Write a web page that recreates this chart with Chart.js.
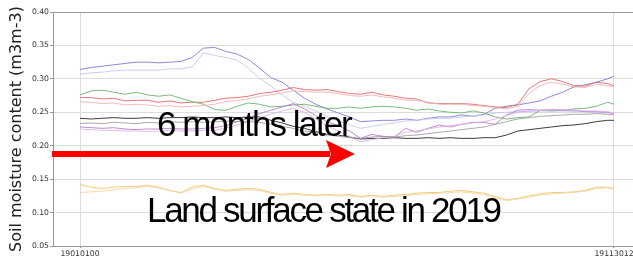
<!DOCTYPE html>
<html>
<head>
<meta charset="utf-8">
<script src="https://cdn.jsdelivr.net/npm/chart.js@4"></script>
<style>
  html,body{margin:0;padding:0;background:#fff;}
  #c{display:block;}
</style>
</head>
<body>
<canvas id="c" width="633" height="257"></canvas>
<script>
// ---- data (day index from 1 Jan) ----
const days = [0,7,14,21,28,35,42,49,56,63,70,77,84,91,98,105,112,119,126,133,140,147,154,161,168,175,182,189,196,203,210,217,224,231,238,245,252,259,266,273,280,287,294,301,308,315,322,329,333];
const tickDays = [0, 333];
const tickLabels = ['19010100', '19113012'];
const yTicks = [0.05,0.10,0.15,0.20,0.25,0.30,0.35,0.40];

const blueDark  = [0.314,0.317,0.319,0.321,0.323,0.325,0.325,0.324,0.325,0.326,0.332,0.346,0.347,0.341,0.337,0.329,0.316,0.302,0.295,0.283,0.271,0.262,0.255,0.249,0.243,0.236,0.237,0.238,0.238,0.240,0.238,0.241,0.243,0.243,0.246,0.244,0.247,0.256,0.259,0.261,0.264,0.267,0.274,0.280,0.288,0.291,0.295,0.300,0.304];
const blueLight = [0.307,0.309,0.310,0.312,0.313,0.313,0.313,0.313,0.315,0.315,0.318,0.339,0.335,0.332,0.328,0.316,0.301,0.289,0.276,0.265,0.259,0.252,0.244,0.237,0.231,0.226,0.229,0.232,0.234,0.237,0.238,0.240,0.241,0.241,0.243,0.244,0.246,0.249,0.250,0.251,0.251,0.252,0.252,0.252,0.251,0.251,0.250,0.249,0.249];
const redDark   = [0.272,0.272,0.270,0.271,0.267,0.268,0.268,0.265,0.267,0.264,0.265,0.265,0.268,0.271,0.272,0.274,0.278,0.280,0.283,0.287,0.284,0.283,0.284,0.281,0.278,0.277,0.280,0.276,0.274,0.271,0.270,0.264,0.263,0.263,0.263,0.262,0.260,0.258,0.257,0.262,0.285,0.296,0.300,0.296,0.290,0.289,0.295,0.293,0.290];
const redLight  = [0.266,0.265,0.263,0.264,0.261,0.262,0.261,0.259,0.260,0.258,0.259,0.260,0.262,0.266,0.268,0.270,0.274,0.276,0.279,0.282,0.281,0.280,0.280,0.278,0.275,0.274,0.276,0.273,0.271,0.268,0.268,0.265,0.262,0.262,0.262,0.260,0.259,0.257,0.255,0.259,0.278,0.290,0.295,0.292,0.288,0.287,0.292,0.290,0.288];
const green     = [0.276,0.282,0.283,0.280,0.277,0.280,0.276,0.274,0.276,0.271,0.266,0.262,0.254,0.253,0.259,0.264,0.262,0.258,0.259,0.261,0.262,0.259,0.256,0.256,0.258,0.256,0.258,0.259,0.258,0.256,0.253,0.255,0.252,0.250,0.249,0.252,0.249,0.243,0.240,0.242,0.243,0.253,0.252,0.253,0.255,0.256,0.259,0.265,0.262];
const black     = [0.241,0.240,0.241,0.242,0.241,0.241,0.242,0.241,0.242,0.242,0.243,0.242,0.242,0.243,0.242,0.243,0.243,0.238,0.234,0.229,0.226,0.221,0.217,0.216,0.213,0.210,0.211,0.211,0.212,0.211,0.211,0.212,0.211,0.212,0.211,0.211,0.212,0.212,0.216,0.222,0.224,0.226,0.228,0.230,0.231,0.233,0.236,0.238,0.238];
const gray      = [0.233,0.234,0.233,0.235,0.234,0.233,0.235,0.234,0.236,0.235,0.236,0.235,0.236,0.237,0.236,0.236,0.235,0.232,0.229,0.226,0.222,0.220,0.216,0.214,0.212,0.211,0.213,0.214,0.213,0.215,0.216,0.218,0.220,0.222,0.224,0.226,0.228,0.232,0.236,0.240,0.242,0.244,0.245,0.246,0.247,0.247,0.248,0.247,0.246];
const purple    = [0.228,0.227,0.226,0.227,0.225,0.224,0.225,0.225,0.226,0.225,0.225,0.226,0.227,0.230,0.236,0.242,0.248,0.253,0.258,0.263,0.255,0.245,0.236,0.230,0.222,0.211,0.217,0.214,0.213,0.226,0.220,0.226,0.231,0.228,0.232,0.235,0.235,0.232,0.246,0.253,0.254,0.253,0.254,0.253,0.253,0.251,0.251,0.250,0.248];
const purpleLight = [0.225,0.224,0.223,0.223,0.222,0.222,0.221,0.222,0.223,0.222,0.222,0.223,0.223,0.226,0.231,0.236,0.242,0.247,0.252,0.256,0.250,0.240,0.230,0.222,0.214,0.206,0.209,0.212,0.214,0.220,0.222,0.225,0.228,0.230,0.232,0.234,0.236,0.240,0.245,0.250,0.252,0.253,0.253,0.254,0.253,0.252,0.252,0.251,0.249];
const orange    = [0.142,0.138,0.136,0.138,0.139,0.139,0.141,0.138,0.133,0.130,0.138,0.141,0.136,0.133,0.135,0.136,0.135,0.130,0.127,0.129,0.127,0.126,0.127,0.126,0.127,0.124,0.126,0.124,0.126,0.127,0.129,0.130,0.130,0.132,0.133,0.131,0.129,0.124,0.119,0.121,0.125,0.128,0.130,0.130,0.131,0.133,0.138,0.138,0.136];
const orangeLight = [0.130,0.131,0.132,0.134,0.136,0.137,0.139,0.137,0.133,0.129,0.135,0.139,0.135,0.132,0.133,0.134,0.133,0.129,0.126,0.127,0.126,0.125,0.126,0.125,0.125,0.123,0.125,0.123,0.124,0.125,0.127,0.128,0.129,0.130,0.131,0.129,0.127,0.122,0.118,0.120,0.123,0.126,0.128,0.129,0.130,0.132,0.136,0.137,0.135];

const seriesList = [
  {values: orangeLight, color: 'rgba(245,215,160,0.9)'},
  {values: orange,      color: 'rgba(240,196,110,0.9)'},
  {values: gray,        color: 'rgba(150,150,150,0.8)'},
  {values: purpleLight, color: 'rgba(220,180,230,0.9)'},
  {values: purple,      color: 'rgba(185,125,205,0.9)'},
  {values: black,       color: 'rgba(40,40,40,0.9)'},
  {values: redLight,    color: 'rgba(242,180,180,0.9)'},
  {values: green,       color: 'rgba(110,180,110,0.9)'},
  {values: redDark,     color: 'rgba(225,105,105,0.9)'},
  {values: blueLight,   color: 'rgba(200,200,242,0.9)'},
  {values: blueDark,    color: 'rgba(125,125,220,0.9)'}
];

const overlay = {
  id: 'overlay',
  afterDraw(chart) {
    const ctx = chart.ctx, a = chart.chartArea;
    ctx.save();
    // top spine
    ctx.strokeStyle = '#999'; ctx.lineWidth = 1;
    ctx.beginPath(); ctx.moveTo(a.left, a.top + 0.5); ctx.lineTo(a.right, a.top + 0.5); ctx.stroke();
    // annotation texts
    ctx.fillStyle = '#000';
    ctx.font = '35px "Liberation Sans", Arial, sans-serif';
    ctx.textBaseline = 'alphabetic'; ctx.textAlign = 'left';
    try { ctx.letterSpacing = '-2px'; } catch(e) {}
    ctx.fillText('6 months later', 157, 136);
    try { ctx.letterSpacing = '-2.3px'; } catch(e) {}
    ctx.fillText('Land surface state in 2019', 147, 222);
    try { ctx.letterSpacing = '0px'; } catch(e) {}
    // red arrow
    ctx.fillStyle = '#ff0000';
    ctx.fillRect(52, 151, 278, 6);
    ctx.beginPath();
    ctx.moveTo(326, 140); ctx.lineTo(355, 154); ctx.lineTo(326, 168); ctx.lineTo(331, 154); ctx.closePath();
    ctx.fill();
    ctx.restore();
  }
};

new Chart(document.getElementById('c'), {
  type: 'line',
  data: {
    datasets: seriesList.map(s => ({
      data: days.map((d, i) => ({x: d, y: s.values[i]})),
      borderColor: s.color, borderWidth: 1, pointRadius: 0, tension: 0, fill: false
    }))
  },
  options: {
    responsive: false, animation: false,
    layout: {padding: {top: 12, right: 0, left: 0, bottom: 0}},
    plugins: {legend: {display: false}, tooltip: {enabled: false}},
    scales: {
      x: {
        type: 'linear', min: -16.84, max: 344.85,
        afterBuildTicks: s => { s.ticks = tickDays.map(v => ({value: v})); },
        afterFit: s => { s.height = 11; s.paddingLeft = 0; s.paddingRight = 0; },
        ticks: {
          callback: v => tickLabels[tickDays.indexOf(v)],
          font: {size: 7.7, family: 'DejaVu Sans'}, color: '#333',
          maxRotation: 0, autoSkip: false, padding: 1
        },
        grid: {color: '#dcdcdc', tickLength: 2, tickColor: '#999'},
        border: {color: '#999', width: 1}
      },
      y: {
        min: 0.05, max: 0.40,
        afterBuildTicks: s => { s.ticks = yTicks.map(v => ({value: v})); },
        afterFit: s => { s.width = 53; s.paddingTop = 0; s.paddingBottom = 0; },
        ticks: {
          callback: v => v.toFixed(2),
          font: {size: 7.7, family: 'DejaVu Sans'}, color: '#333', padding: 1
        },
        grid: {color: '#dcdcdc', tickLength: 3, tickColor: '#999'},
        border: {color: '#999', width: 1},
        title: {
          display: true, text: 'Soil moisture content (m3m-3)',
          font: {size: 16, family: 'DejaVu Sans'}, color: '#222',
          padding: {top: 7, bottom: 0}
        }
      }
    }
  },
  plugins: [overlay]
});
</script>
</body>
</html>
